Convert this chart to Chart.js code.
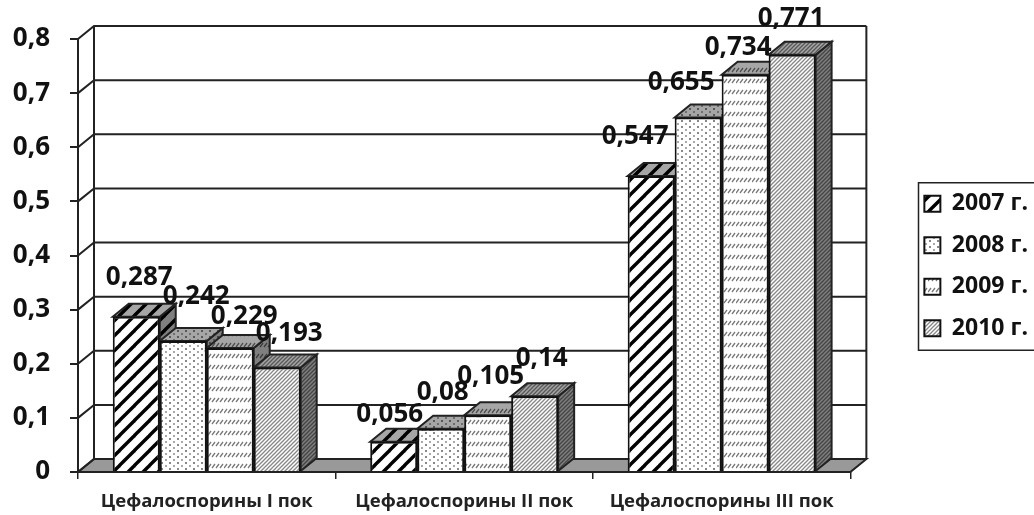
<!DOCTYPE html>
<html>
<head>
<meta charset="utf-8">
<script src="https://cdn.jsdelivr.net/npm/chart.js@4/dist/chart.umd.min.js"></script>
<style>
html, body { margin: 0; background: #fff; }
canvas { display: block; }
</style>
</head>
<body>
<canvas id="chart" width="1034" height="515"></canvas>
<script>
const categories = ["Цефалоспорины I пок", "Цефалоспорины II пок", "Цефалоспорины III пок"];
const years = ["2007 г.", "2008 г.", "2009 г.", "2010 г."];
const values2007 = [0.287, 0.056, 0.547];
const values2008 = [0.242, 0.08, 0.655];
const values2009 = [0.229, 0.105, 0.734];
const values2010 = [0.193, 0.14, 0.771];

// label shift from the top centre of each bar, per series then per category
const labelShift = [
  [[3, -39], [-4, -27], [-16, -39]],
  [[13, -44], [2, -36], [-17, -35]],
  [[14, -31], [3, -39], [-7, -27]],
  [[12, -34], [7, -38], [-1, -36]]
];

const DEPTH_X = 16;
const DEPTH_Y = 13;
const FONT = "'Open Sans', sans-serif";
const LINE = "#222";

function tile(w, h, paint) {
  const c = document.createElement("canvas");
  c.width = w;
  c.height = h;
  const g = c.getContext("2d");
  g.fillStyle = "#fff";
  g.fillRect(0, 0, w, h);
  paint(g);
  return g.createPattern(c, "repeat");
}

function diagonal(g, size, width, color) {
  g.strokeStyle = color;
  g.lineWidth = width;
  for (let i = -size; i <= size; i += size) {
    g.beginPath();
    g.moveTo(i - 1, size + 1);
    g.lineTo(i + size + 1, -1);
    g.stroke();
  }
}

const patterns = [
  tile(15, 15, g => diagonal(g, 15, 3.4, "#000")),
  tile(8, 6, g => {
    g.fillStyle = "#888";
    g.fillRect(1, 0, 2, 2);
    g.fillStyle = "#aaa";
    g.fillRect(5, 3, 2, 2);
  }),
  tile(16, 11, g => {
    g.strokeStyle = "#777";
    g.lineWidth = 1.3;
    for (let x = 0; x < 16; x += 4) {
      g.beginPath();
      g.moveTo(x, 6);
      g.lineTo(x + 3, 2);
      g.stroke();
    }
  }),
  tile(4, 4, g => diagonal(g, 4, 1.3, "#888"))
];

function face(ctx, pts, pattern, shade) {
  ctx.beginPath();
  pts.forEach((p, i) => i ? ctx.lineTo(p[0], p[1]) : ctx.moveTo(p[0], p[1]));
  ctx.closePath();
  ctx.fillStyle = pattern;
  ctx.fill();
  ctx.fillStyle = shade;
  ctx.fill();
  ctx.stroke();
}

const depthPlugin = {
  id: "depth",
  beforeDatasetsDraw(chart) {
    const { ctx, chartArea: a, scales: { y } } = chart;
    ctx.save();
    ctx.lineWidth = 2;
    ctx.strokeStyle = LINE;

    // floor
    ctx.beginPath();
    ctx.moveTo(a.left, a.bottom);
    ctx.lineTo(a.left + DEPTH_X, a.bottom - DEPTH_Y);
    ctx.lineTo(a.right + DEPTH_X, a.bottom - DEPTH_Y);
    ctx.lineTo(a.right, a.bottom);
    ctx.closePath();
    ctx.fillStyle = "#999";
    ctx.fill();
    ctx.stroke();

    // back wall lines and their run down the side wall
    y.ticks.forEach(t => {
      const py = y.getPixelForValue(t.value);
      ctx.beginPath();
      ctx.moveTo(a.left, py);
      ctx.lineTo(a.left + DEPTH_X, py - DEPTH_Y);
      ctx.lineTo(a.right + DEPTH_X, py - DEPTH_Y);
      ctx.stroke();
    });
    ctx.beginPath();
    ctx.moveTo(a.left + DEPTH_X, a.top - DEPTH_Y);
    ctx.lineTo(a.left + DEPTH_X, a.bottom - DEPTH_Y);
    ctx.moveTo(a.right + DEPTH_X, a.top - DEPTH_Y);
    ctx.lineTo(a.right + DEPTH_X, a.bottom - DEPTH_Y);
    ctx.stroke();

    // top and side faces, left to right so the next bar covers the last one
    categories.forEach((c, i) => {
      chart.data.datasets.forEach((ds, d) => {
        const bar = chart.getDatasetMeta(d).data[i];
        const l = bar.x - bar.width / 2;
        const r = bar.x + bar.width / 2;
        const t = bar.y;
        const b = bar.base;
        face(ctx, [[r, t], [r + DEPTH_X, t - DEPTH_Y], [r + DEPTH_X, b - DEPTH_Y], [r, b]], patterns[d], "rgba(0,0,0,0.5)");
        face(ctx, [[l, t], [l + DEPTH_X, t - DEPTH_Y], [r + DEPTH_X, t - DEPTH_Y], [r, t]], patterns[d], "rgba(0,0,0,0.35)");
      });
    });
    ctx.restore();
  },
  afterDatasetsDraw(chart) {
    const { ctx } = chart;
    ctx.save();
    ctx.fillStyle = "#111";
    ctx.font = "bold 26px " + FONT;
    ctx.textAlign = "center";
    ctx.textBaseline = "middle";
    chart.data.datasets.forEach((ds, d) => {
      chart.getDatasetMeta(d).data.forEach((bar, i) => {
        const s = labelShift[d][i];
        ctx.fillText(String(ds.data[i]).replace(".", ","), bar.x + s[0], bar.y + s[1]);
      });
    });
    ctx.restore();
  },
  afterDraw(chart) {
    // frame round the legend, open past the page edge
    const boxes = chart.legend.legendHitBoxes;
    const { ctx } = chart;
    const first = boxes[0];
    const last = boxes[boxes.length - 1];
    const top = first.top + first.height / 2 - 21;
    const bottom = last.top + last.height / 2 + 22;
    ctx.save();
    ctx.strokeStyle = LINE;
    ctx.lineWidth = 1.5;
    ctx.strokeRect(918.5, top, 130, bottom - top);
    ctx.restore();
  }
};

// empty axes that only reserve room: above the plot and between plot and legend
const spacer = (position, axis, size) => ({
  axis,
  position,
  afterFit(s) { if (axis === "x") s.height = size; else s.width = size; },
  grid: { display: false },
  border: { display: false },
  ticks: { display: false }
});

new Chart(document.getElementById("chart"), {
  type: "bar",
  data: {
    labels: categories,
    datasets: [values2007, values2008, values2009, values2010].map((v, d) => ({
      label: years[d],
      data: v,
      backgroundColor: patterns[d],
      borderColor: "#111",
      borderWidth: 2,
      categoryPercentage: 0.73,
      barPercentage: 1
    }))
  },
  options: {
    responsive: false,
    animation: false,
    layout: { padding: { top: 17, right: -4 } },
    scales: {
      x: {
        afterFit(s) { s.height = 43; },
        grid: { drawOnChartArea: false, tickLength: 7, color: LINE, lineWidth: 1.5, offset: true },
        border: { color: LINE, width: 2 },
        ticks: { color: "#222", font: { family: FONT, weight: "bold", size: 18.5 }, padding: 12, maxRotation: 0 }
      },
      y: {
        min: 0,
        max: 0.8,
        afterFit(s) { s.width = 78; },
        afterBuildTicks(s) { s.ticks = [0, 1, 2, 3, 4, 5, 6, 7, 8].map(n => ({ value: n / 10 })); },
        grid: { drawOnChartArea: false, tickLength: 8, color: LINE, lineWidth: 2 },
        border: { color: LINE, width: 2 },
        ticks: {
          color: "#111",
          padding: 20,
          font: { family: FONT, weight: "bold", size: 26 },
          callback: v => String(v).replace(".", ",")
        }
      },
      gapTop: spacer("top", "x", 22),
      gapRight: spacer("right", "y", 55.5)
    },
    plugins: {
      tooltip: { enabled: false },
      legend: {
        position: "right",
        labels: {
          boxWidth: 16,
          boxHeight: 16,
          padding: 18.5,
          color: "#111",
          font: { family: FONT, weight: "bold", size: 23 }
        }
      }
    }
  },
  plugins: [depthPlugin]
});
</script>
</body>
</html>
